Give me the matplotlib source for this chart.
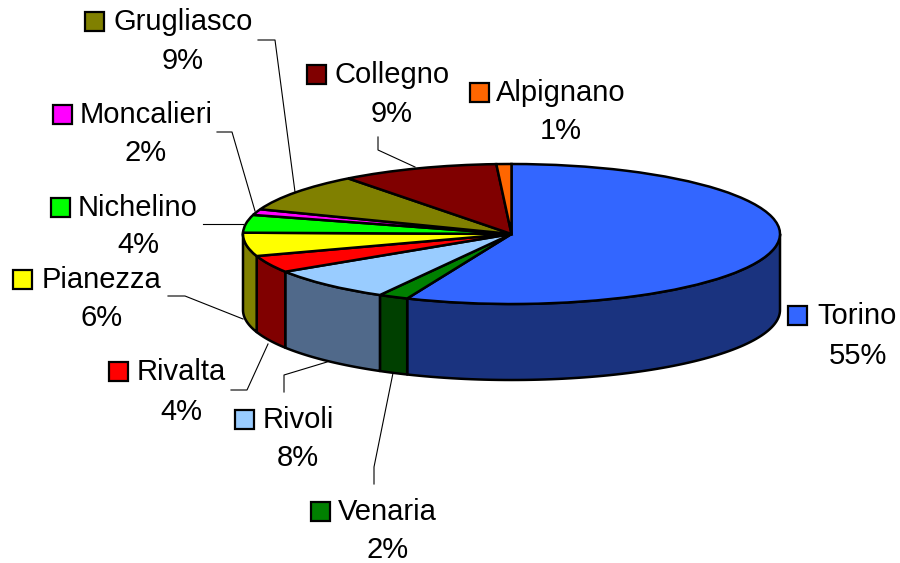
import numpy as np
import matplotlib
matplotlib.use("Agg")
import matplotlib.pyplot as plt
from matplotlib.patches import Rectangle

# ---- data ----
categories = ["Torino", "Venaria", "Rivoli", "Rivalta", "Pianezza",
              "Nichelino", "Moncalieri", "Grugliasco", "Collegno", "Alpignano"]
# Slice sizes as they appear on the perspective-drawn pie
drawn_shares = [56.35, 1.8, 7.8, 3.95, 5.4, 4.1, 1.35, 8.85, 9.5, 0.9]
# Percentages as printed on the labels
printed_percent = [55, 2, 8, 4, 6, 4, 2, 9, 9, 1]

# ---- style ----
top_colors = ["#3366FF", "#008000", "#99CCFF", "#FF0000", "#FFFF00",
              "#00FF00", "#FF00FF", "#808000", "#800000", "#FF6600"]
wall_colors = ["#1A337F", "#004000", "#50698A", "#800000", "#808000",
               "#008000", "#800080", "#404000", "#400000", "#803300"]

# ---- layout (pixels) ----
W, H = 900, 563
CX, CY, RX, RY, DEPTH = 511.5, 234.0, 268.5, 70.0, 76.0
# word centre x, word cap-centre y, percent cap-centre y, key centre x
label_layout = {
    "Torino": (857.5, 314, 354, 797),
    "Venaria": (387.5, 510, 548, 320),
    "Rivoli": (298, 417.5, 455.5, 244),
    "Rivalta": (181, 370, 410, 118),
    "Pianezza": (102, 278, 316, 22),
    "Nichelino": (138, 206, 243, 60),
    "Moncalieri": (146, 113, 151, 62),
    "Grugliasco": (183, 20, 59, 94),
    "Collegno": (392, 73, 112, 316),
    "Alpignano": (561, 91, 129, 479),
}
leaders = [
    [(258, 40), (275, 40), (295, 192)],
    [(217, 132), (232, 132), (255, 211)],
    [(203, 224), (243, 224)],
    [(168, 296), (185, 296), (243, 319)],
    [(231, 390), (247, 390), (268, 344)],
    [(284, 392), (284, 375), (327, 362)],
    [(374, 484), (374, 467), (393, 373)],
    [(378, 137), (378, 150), (415, 167)],
]

fig = plt.figure(figsize=(W / 100, H / 100), dpi=100, facecolor="white")

# Pie axes: unit circle squashed into the ellipse of the top face
ax = fig.add_axes([0, 0, 1, 1])
ax.axis("off")
depth = DEPTH / RY
edges = np.concatenate([[0], np.cumsum(drawn_shares)]) / np.sum(drawn_shares) * 2 * np.pi

# Side wall: visible only for the front half (pi/2 .. 3pi/2 clockwise from top)
for i, color in enumerate(wall_colors):
    a, b = max(edges[i], np.pi / 2), min(edges[i + 1], 3 * np.pi / 2)
    if b <= a:
        continue
    t = np.linspace(a, b, 80)
    xs = np.sin(t)
    ys = np.cos(t)
    ax.fill(np.r_[xs, xs[::-1]], np.r_[ys, ys[::-1] - depth],
            facecolor=color, edgecolor="black", linewidth=1.8,
            joinstyle="round", zorder=1)

ax.pie(drawn_shares, colors=top_colors, startangle=90, counterclock=False,
       radius=1.0, wedgeprops=dict(edgecolor="black", linewidth=1.8, zorder=2))
ax.set_aspect("auto")
ax.set_xlim((0 - CX) / RX, (W - CX) / RX)
ax.set_ylim((CY - H) / RY, CY / RY)

# Overlay axes in pixel coordinates for labels
ov = fig.add_axes([0, 0, 1, 1], facecolor="none")
ov.set_xlim(0, W)
ov.set_ylim(H, 0)
ov.axis("off")

FONT = dict(family="Liberation Sans", fontsize=21, color="black",
            ha="center", va="baseline")
for name, pct, color in zip(categories, printed_percent, top_colors):
    x, y1, y2, kx = label_layout[name]
    ov.text(x, y1 + 10, name, **FONT)
    ov.text(x, y2 + 10, f"{pct}%", **FONT)
    ov.add_patch(Rectangle((kx - 9.5, y1 - 9 + 1), 19, 19, facecolor=color,
                           edgecolor="black", linewidth=1.6))
for path in leaders:
    px, py = zip(*path)
    ov.plot(px, py, color="black", linewidth=0.8)

fig.savefig("out.png", dpi=100)
